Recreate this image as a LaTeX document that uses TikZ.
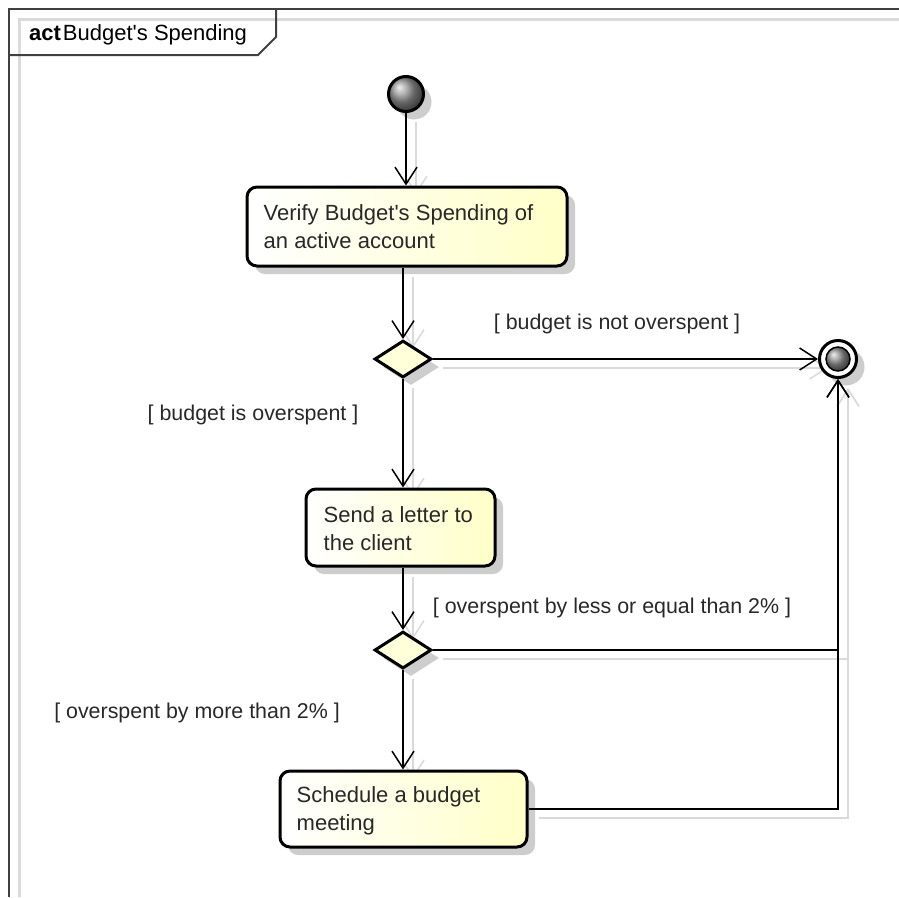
\documentclass[tikz,border=0pt]{standalone}
\usepackage{fontspec}
\setmainfont{Liberation Sans}
\usetikzlibrary{arrows.meta,shapes.geometric,shadows,backgrounds}

\definecolor{boxyellow}{RGB}{255,255,200}
\definecolor{diafill}{RGB}{255,255,218}
\definecolor{framegray}{RGB}{64,64,64}
\definecolor{shadegray}{RGB}{205,205,205}
\definecolor{lineshade}{RGB}{218,218,218}
\definecolor{inkgray}{RGB}{40,40,40}

\begin{document}
\begin{tikzpicture}[x=1pt,y=-1pt,
  every node/.style={font=\fontsize{22}{28}\selectfont, text=inkgray},
  nodeshadow/.style={drop shadow={shadow xshift=8pt,shadow yshift=-8pt,fill=shadegray,opacity=1}},
  actbox/.style={draw=black, line width=3pt, rounded corners=10pt,
    left color=white, right color=boxyellow, inner sep=0, nodeshadow},
  boxtext/.style={anchor=west, align=left, inner sep=0},
  decision/.style={diamond, draw=black, line width=3pt, fill=diafill,
    minimum width=57pt, minimum height=37pt, inner sep=0, nodeshadow},
  initnode/.style={circle, draw=black, line width=3pt, minimum size=35pt,
    inner sep=0, ball color=gray!85, nodeshadow},
  finalring/.style={circle, draw=black, line width=3pt, minimum size=37pt,
    inner sep=0, fill=white, nodeshadow},
  finalcore/.style={circle, draw=black, line width=1.5pt, minimum size=24pt,
    inner sep=0, ball color=gray!85},
  guard/.style={inner sep=0, font=\fontsize{21.4}{26}\selectfont},
  flow/.style={draw=black, line width=1.5pt,
    -{Straight Barb[length=17pt,width=22pt,line width=1.5pt]}},
  flowshadow/.style={flow, draw=lineshade, transform canvas={shift={(10,9)}}},
]
\useasboundingbox (0,0) rectangle (899,897);

% frame with its name tab
\draw[lineshade, line width=3pt] (19,897) -- (19,19) -- (899,19);
\draw[framegray, line width=2pt] (9,897) -- (9,9) -- (899,9);
\draw[framegray, line width=2pt] (9,55) -- (258,55) -- (276,37) -- (276,9);
\node[anchor=west, inner sep=0, text=black] (title) at (29,35)
  {\textbf{act}\kern2pt Budget\textquotesingle s Spending};

% start and end
\node[initnode] (start) at (406,94) {};
\node[finalring] (end) at (838,359) {};
\node[finalcore] (endcore) at (end.center) {};

% actions
\node[actbox, minimum width=320pt, minimum height=79pt] (verify) at (407,226.5) {};
\node[boxtext] (verifytxt) at ([xshift=18pt]verify.west)
  {Verify Budget\textquotesingle s Spending of\\an active account};

\node[actbox, minimum width=189pt, minimum height=77pt] (letter) at (400.5,527.5) {};
\node[boxtext] (lettertxt) at ([xshift=19pt,yshift=-1.5pt]letter.west)
  {Send a letter to\\the client};

\node[actbox, minimum width=247pt, minimum height=76pt] (meet) at (403.5,809) {};
\node[boxtext] (meettxt) at ([xshift=18pt,yshift=-2pt]meet.west)
  {Schedule a budget\\meeting};

% decisions
\node[decision] (d1) at (403,359) {};
\node[decision] (d2) at (403,650) {};

% guards
\node[guard] (g1) at (617,324) {[ budget is not overspent ]};
\node[guard] (g2) at (253,415) {[ budget is overspent ]};
\node[guard] (g3) at (612,608) {[ overspent by less or equal than 2\% ]};
\node[guard] (g4) at (197,713) {[ overspent by more than 2\% ]};

% soft shadows of the flows
\begin{scope}[on background layer]
  \draw[flowshadow] (start) -- (start |- verify.north);
  \draw[flowshadow] (d1.north |- verify.south) -- (d1.north);
  \draw[flowshadow] (d1.east) -- (end.west);
  \draw[flowshadow] (d1.south) -- (d1.south |- letter.north);
  \draw[flowshadow] (d1.south |- letter.south) -- (d2.north);
  \draw[flowshadow] (d2.east) -| (end.south);
  \draw[flowshadow] (d2.south) -- (d2.south |- meet.north);
  \draw[flowshadow] (meet.east) -| (end.south);
\end{scope}

% flows
\draw[flow] (start) -- (start |- verify.north);
\draw[flow] (d1.north |- verify.south) -- (d1.north);
\draw[flow] (d1.east) -- (end.west);
\draw[flow] (d1.south) -- (d1.south |- letter.north);
\draw[flow] (d1.south |- letter.south) -- (d2.north);
\draw[flow] (d2.east) -| (end.south);
\draw[flow] (d2.south) -- (d2.south |- meet.north);
\draw[flow] (meet.east) -| (end.south);
\end{tikzpicture}
\end{document}
